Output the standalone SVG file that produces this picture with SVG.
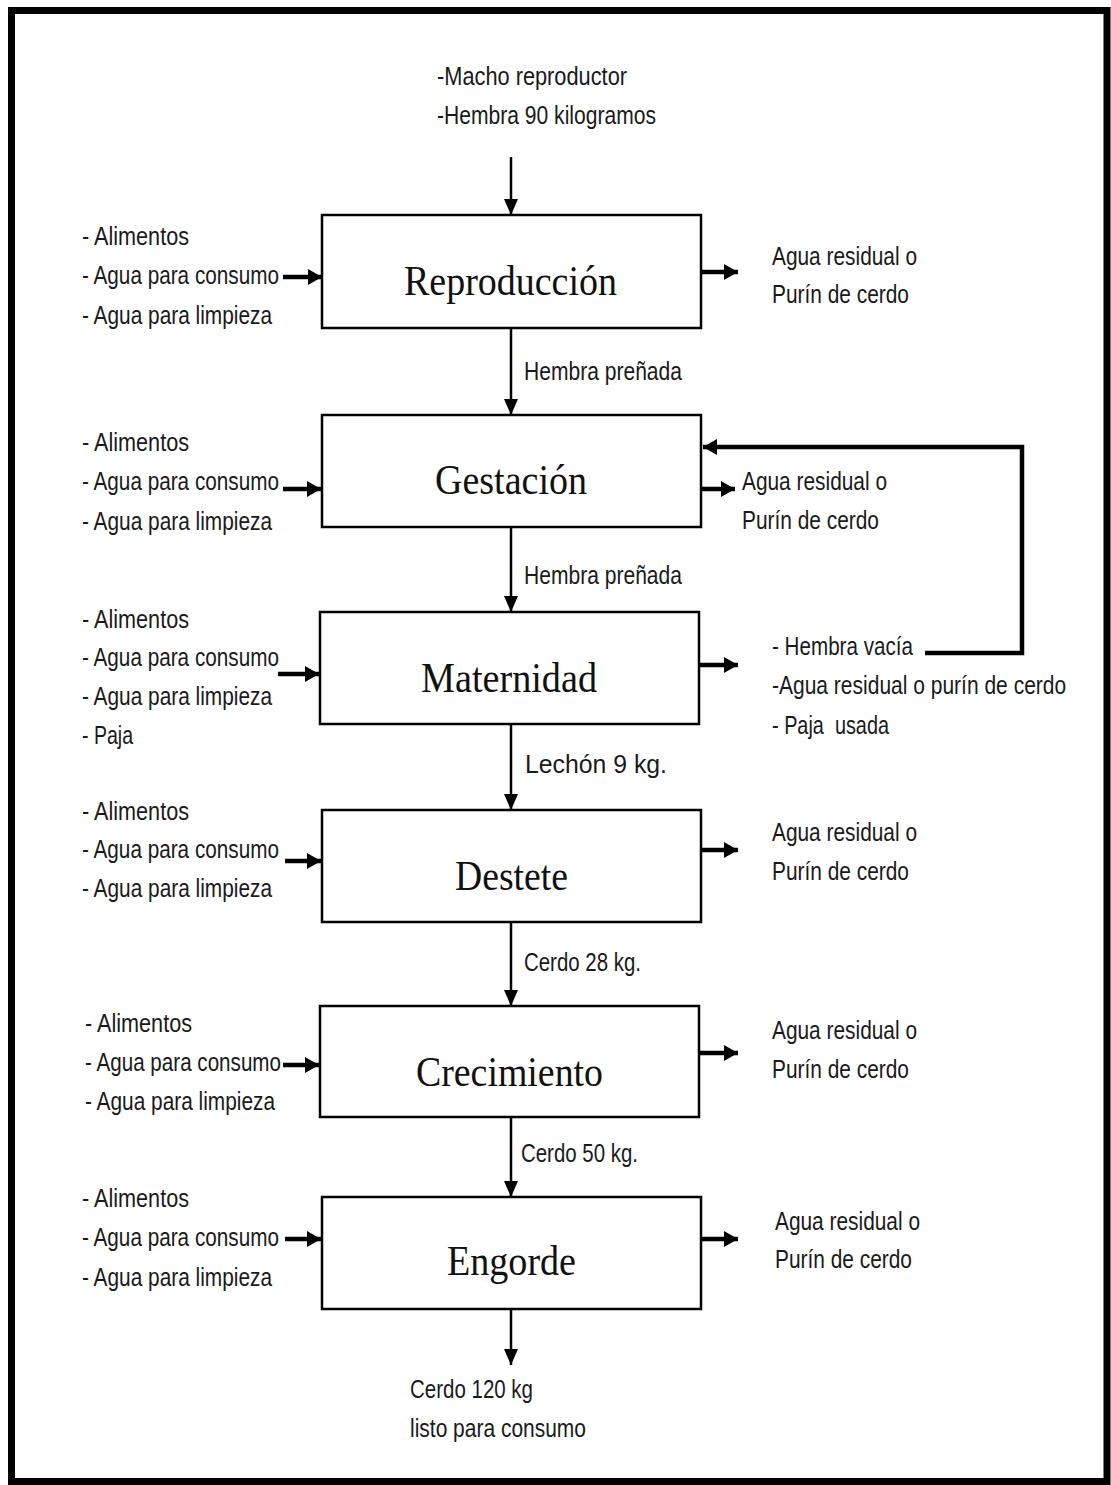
<svg xmlns="http://www.w3.org/2000/svg" width="1111" height="1485" viewBox="0 0 1111 1485">
<style>
.t{font-family:"Liberation Sans","DejaVu Sans",sans-serif;font-size:26px;fill:#1a1a1a;white-space:pre}
.h{font-family:"Liberation Serif","DejaVu Serif",serif;font-size:43px;fill:#111}
.box{fill:#fff;stroke:#000;stroke-width:2.5}
.thin{fill:none;stroke:#000;stroke-width:2.5}
.thick{fill:none;stroke:#000;stroke-width:4.5}
</style>
<defs>
<marker id="ah" markerUnits="userSpaceOnUse" markerWidth="16" markerHeight="14" refX="16" refY="7" orient="auto">
<path d="M0,0 L16,7 L0,14 z" fill="#000"/>
</marker>
<marker id="ahk" markerUnits="userSpaceOnUse" markerWidth="14" markerHeight="16" refX="14" refY="8" orient="auto">
<path d="M0,0 L14,8 L0,16 z" fill="#000"/>
</marker>
</defs>
<rect x="0" y="0" width="1111" height="1485" fill="#fff"/>
<rect x="11.5" y="10.5" width="1095.5" height="1471" fill="none" stroke="#000" stroke-width="7"/>

<g id="connectors">
<line class="thin" x1="511" y1="157" x2="511" y2="215" marker-end="url(#ah)"/>
<line class="thin" x1="511" y1="328" x2="511" y2="415" marker-end="url(#ah)"/>
<line class="thin" x1="511" y1="527" x2="511" y2="612" marker-end="url(#ah)"/>
<line class="thin" x1="511" y1="724" x2="511" y2="810" marker-end="url(#ah)"/>
<line class="thin" x1="511" y1="922" x2="511" y2="1006" marker-end="url(#ah)"/>
<line class="thin" x1="511" y1="1117" x2="511" y2="1197" marker-end="url(#ah)"/>
<line class="thin" x1="511" y1="1309" x2="511" y2="1365" marker-end="url(#ah)"/>

<line class="thick" x1="283" y1="277" x2="322" y2="277" marker-end="url(#ahk)"/>
<line class="thick" x1="283" y1="489" x2="321" y2="489" marker-end="url(#ahk)"/>
<line class="thick" x1="278" y1="674" x2="319" y2="674" marker-end="url(#ahk)"/>
<line class="thick" x1="285" y1="861" x2="321" y2="861" marker-end="url(#ahk)"/>
<line class="thick" x1="283" y1="1065" x2="319" y2="1065" marker-end="url(#ahk)"/>
<line class="thick" x1="285" y1="1239" x2="321" y2="1239" marker-end="url(#ahk)"/>

<line class="thick" x1="701" y1="272" x2="738" y2="272" marker-end="url(#ahk)"/>
<line class="thick" x1="701" y1="489" x2="735" y2="489" marker-end="url(#ahk)"/>
<line class="thick" x1="699" y1="665" x2="738" y2="665" marker-end="url(#ahk)"/>
<line class="thick" x1="701" y1="850" x2="738" y2="850" marker-end="url(#ahk)"/>
<line class="thick" x1="699" y1="1053" x2="738" y2="1053" marker-end="url(#ahk)"/>
<line class="thick" x1="701" y1="1239" x2="738" y2="1239" marker-end="url(#ahk)"/>

<polyline class="thick" points="925,653 1022,653 1022,447 703,447" marker-end="url(#ahk)"/>
</g>

<g id="inicio">
<text class="t" x="437" y="85" textLength="190" lengthAdjust="spacingAndGlyphs">-Macho reproductor</text>
<text class="t" x="437" y="124" textLength="219" lengthAdjust="spacingAndGlyphs">-Hembra 90 kilogramos</text>
</g>

<g id="reproduccion">
<rect class="box" x="322" y="215" width="379" height="113"/>
<text class="h" x="404" y="295" textLength="213" lengthAdjust="spacingAndGlyphs">Reproducción</text>
</g>
<g id="in-reproduccion">
<text class="t" x="82" y="245" textLength="107" lengthAdjust="spacingAndGlyphs">- Alimentos</text>
<text class="t" x="82" y="284" textLength="197" lengthAdjust="spacingAndGlyphs">- Agua para consumo</text>
<text class="t" x="82" y="324" textLength="190" lengthAdjust="spacingAndGlyphs">- Agua para limpieza</text>
</g>
<g id="out-reproduccion">
<text class="t" x="772" y="265" textLength="145" lengthAdjust="spacingAndGlyphs">Agua residual o</text>
<text class="t" x="772" y="303" textLength="137" lengthAdjust="spacingAndGlyphs">Purín de cerdo</text>
</g>
<text class="t" x="524" y="380" textLength="158" lengthAdjust="spacingAndGlyphs">Hembra preñada</text>

<g id="gestacion">
<rect class="box" x="322" y="415" width="379" height="112"/>
<text class="h" x="435" y="494" textLength="152" lengthAdjust="spacingAndGlyphs">Gestación</text>
</g>
<g id="in-gestacion">
<text class="t" x="82" y="451" textLength="107" lengthAdjust="spacingAndGlyphs">- Alimentos</text>
<text class="t" x="82" y="490" textLength="197" lengthAdjust="spacingAndGlyphs">- Agua para consumo</text>
<text class="t" x="82" y="530" textLength="190" lengthAdjust="spacingAndGlyphs">- Agua para limpieza</text>
</g>
<g id="out-gestacion">
<text class="t" x="742" y="490" textLength="145" lengthAdjust="spacingAndGlyphs">Agua residual o</text>
<text class="t" x="742" y="529" textLength="137" lengthAdjust="spacingAndGlyphs">Purín de cerdo</text>
</g>
<text class="t" x="524" y="584" textLength="158" lengthAdjust="spacingAndGlyphs">Hembra preñada</text>

<g id="maternidad">
<rect class="box" x="320" y="612" width="379" height="112"/>
<text class="h" x="421" y="692" textLength="176" lengthAdjust="spacingAndGlyphs">Maternidad</text>
</g>
<g id="in-maternidad">
<text class="t" x="82" y="628" textLength="107" lengthAdjust="spacingAndGlyphs">- Alimentos</text>
<text class="t" x="82" y="666" textLength="197" lengthAdjust="spacingAndGlyphs">- Agua para consumo</text>
<text class="t" x="82" y="705" textLength="190" lengthAdjust="spacingAndGlyphs">- Agua para limpieza</text>
<text class="t" x="82" y="744" textLength="51" lengthAdjust="spacingAndGlyphs">- Paja</text>
</g>
<g id="out-maternidad">
<text class="t" x="772" y="655" textLength="141" lengthAdjust="spacingAndGlyphs">- Hembra vacía</text>
<text class="t" transform="translate(772,694) scale(0.808,1)" x="0" y="0">-Agua residual o purín de cerdo</text>
<text class="t" x="772" y="734" textLength="117" lengthAdjust="spacingAndGlyphs" xml:space="preserve">- Paja  usada</text>
</g>
<text class="t" x="525" y="773" textLength="142" lengthAdjust="spacingAndGlyphs">Lechón 9 kg.</text>

<g id="destete">
<rect class="box" x="322" y="810" width="379" height="112"/>
<text class="h" x="455" y="890" textLength="113" lengthAdjust="spacingAndGlyphs">Destete</text>
</g>
<g id="in-destete">
<text class="t" x="82" y="820" textLength="107" lengthAdjust="spacingAndGlyphs">- Alimentos</text>
<text class="t" x="82" y="858" textLength="197" lengthAdjust="spacingAndGlyphs">- Agua para consumo</text>
<text class="t" x="82" y="897" textLength="190" lengthAdjust="spacingAndGlyphs">- Agua para limpieza</text>
</g>
<g id="out-destete">
<text class="t" x="772" y="841" textLength="145" lengthAdjust="spacingAndGlyphs">Agua residual o</text>
<text class="t" x="772" y="880" textLength="137" lengthAdjust="spacingAndGlyphs">Purín de cerdo</text>
</g>
<text class="t" x="524" y="971" textLength="117" lengthAdjust="spacingAndGlyphs">Cerdo 28 kg.</text>

<g id="crecimiento">
<rect class="box" x="320" y="1006" width="379" height="111"/>
<text class="h" x="416" y="1086" textLength="187" lengthAdjust="spacingAndGlyphs">Crecimiento</text>
</g>
<g id="in-crecimiento">
<text class="t" x="85" y="1032" textLength="107" lengthAdjust="spacingAndGlyphs">- Alimentos</text>
<text class="t" x="85" y="1071" textLength="196" lengthAdjust="spacingAndGlyphs">- Agua para consumo</text>
<text class="t" x="85" y="1110" textLength="190" lengthAdjust="spacingAndGlyphs">- Agua para limpieza</text>
</g>
<g id="out-crecimiento">
<text class="t" x="772" y="1039" textLength="145" lengthAdjust="spacingAndGlyphs">Agua residual o</text>
<text class="t" x="772" y="1078" textLength="137" lengthAdjust="spacingAndGlyphs">Purín de cerdo</text>
</g>
<text class="t" x="521" y="1162" textLength="117" lengthAdjust="spacingAndGlyphs">Cerdo 50 kg.</text>

<g id="engorde">
<rect class="box" x="322" y="1197" width="379" height="112"/>
<text class="h" x="447" y="1275" textLength="129" lengthAdjust="spacingAndGlyphs">Engorde</text>
</g>
<g id="in-engorde">
<text class="t" x="82" y="1207" textLength="107" lengthAdjust="spacingAndGlyphs">- Alimentos</text>
<text class="t" x="82" y="1246" textLength="197" lengthAdjust="spacingAndGlyphs">- Agua para consumo</text>
<text class="t" x="82" y="1286" textLength="190" lengthAdjust="spacingAndGlyphs">- Agua para limpieza</text>
</g>
<g id="out-engorde">
<text class="t" x="775" y="1230" textLength="145" lengthAdjust="spacingAndGlyphs">Agua residual o</text>
<text class="t" x="775" y="1268" textLength="137" lengthAdjust="spacingAndGlyphs">Purín de cerdo</text>
</g>
<g id="salida">
<text class="t" x="410" y="1398" textLength="123" lengthAdjust="spacingAndGlyphs">Cerdo 120 kg</text>
<text class="t" x="410" y="1437" textLength="176" lengthAdjust="spacingAndGlyphs">listo para consumo</text>
</g>
</svg>
